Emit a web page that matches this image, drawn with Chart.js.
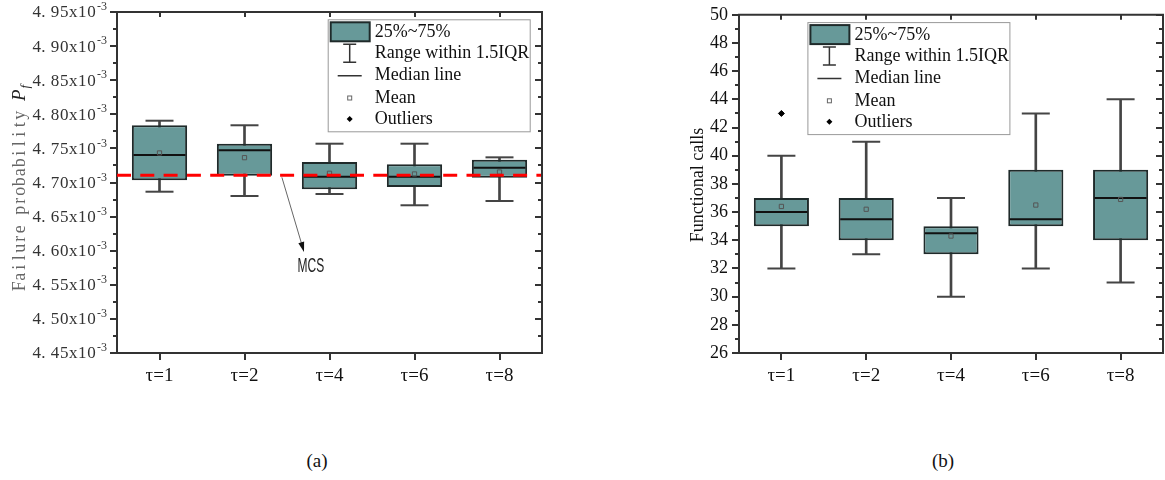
<!DOCTYPE html>
<html>
<head>
<meta charset="utf-8">
<script src="https://cdn.jsdelivr.net/npm/chart.js@4.4.1/dist/chart.umd.min.js"></script>
<style>
  body { margin: 0; background: #fff; width: 1165px; height: 480px; position: relative; overflow: hidden; }
  canvas { position: absolute; top: 0; }
  #chartA { left: 0; }
  #chartB { left: 600px; }
  .cap { position: absolute; top: 450px; font: 19px "Liberation Serif", "Times New Roman", serif; color: #111; transform: translateX(-50%); }
</style>
</head>
<body>
<canvas id="chartA" width="560" height="420"></canvas>
<canvas id="chartB" width="565" height="420"></canvas>
<div class="cap" style="left:317px">(a)</div>
<div class="cap" style="left:943px">(b)</div>
<script>
const labels = ['τ=1', 'τ=2', 'τ=4', 'τ=6', 'τ=8']
const legendLabels = ['25%~75%', 'Range within 1.5IQR', 'Median line', 'Mean', 'Outliers']

// (a) failure probability, values in units of 1e-3
const pfLow    = [4.6865, 4.6802, 4.6831, 4.6666, 4.6729]
const pfQ1     = [4.7032, 4.7100, 4.6900, 4.6934, 4.7071]
const pfMedian = [4.7403, 4.7472, 4.7085, 4.7085, 4.7217]
const pfQ3     = [4.7839, 4.7569, 4.7301, 4.7267, 4.7335]
const pfHigh   = [4.7906, 4.7839, 4.7569, 4.7569, 4.7369]
const pfMean   = [4.7433, 4.7364, 4.7135, 4.7125, 4.7154]
const pfMcs = 4.7105
// arrow + label for the MCS line, in (category index, value) coords
const mcsArrowFrom = [1.44, pfMcs]
const mcsArrowTo = [1.70, 4.598]
const mcsTextAt = [1.78, 4.5765]

// (b) functional calls
const fcLow      = [32, 33, 30, 32, 31]
const fcQ1       = [35, 34, 33, 35, 34]
const fcMedian   = [36, 35.5, 34.5, 35.5, 37]
const fcQ3       = [37, 37, 35, 39, 39]
const fcHigh     = [40, 41, 37, 43, 44]
const fcMean     = [36.4, 36.2, 34.3, 36.5, 36.9]
const fcOutliers = [43, null, null, null, null]

const TEAL = '#679999'
const SERIF = '"Liberation Serif", "Times New Roman", serif'

function pointSet(data, style, radius, color, width, fill, order) {
  return {
    type: 'line', data: data, showLine: false, order: order,
    pointStyle: style, pointRadius: radius, pointHoverRadius: radius,
    pointBorderColor: color, pointBorderWidth: width, pointBackgroundColor: fill,
    borderColor: color, borderWidth: width, backgroundColor: fill
  }
}

function makeDatasets(low, q1, median, q3, high, mean, outliers) {
  let ranges = []
  let boxes = []
  for (let i = 0; i < low.length; i++) {
    ranges.push([low[i], high[i]])
    boxes.push([q1[i], q3[i]])
  }
  let ds = [
    { type: 'bar', data: ranges, grouped: false, barThickness: 2, backgroundColor: '#444', order: 7 },
    pointSet(low, 'line', 14, '#444', 2, '#444', 6),
    pointSet(high, 'line', 14, '#444', 2, '#444', 6),
    { type: 'bar', data: boxes, grouped: false, barPercentage: 0.65, categoryPercentage: 1,
      backgroundColor: TEAL, borderColor: '#1f2a2a', borderWidth: 2, borderSkipped: false, order: 5 },
    pointSet(median, 'line', 26, '#111', 2, '#111', 4),
    pointSet(mean, 'rect', 3, '#555', 1, 'rgba(0,0,0,0)', 3)
  ]
  if (outliers) ds.push(pointSet(outliers, 'rectRot', 3, '#000', 1, '#000', 2))
  return ds
}

// half-width "SimSun-like" text: every char in an equal cell
function drawCells(ctx, text, x, y, cell) {
  ctx.textAlign = 'center'
  for (let i = 0; i < text.length; i++) {
    let dx = text[i] === '.' ? -2.5 : 0
    ctx.fillText(text[i], x + i * cell + cell / 2 + dx, y)
  }
}

function drawFrame(chart, minorStep) {
  const ctx = chart.ctx
  const a = chart.chartArea
  const x = chart.scales.x
  const y = chart.scales.y
  ctx.save()
  ctx.strokeStyle = '#333'
  ctx.lineWidth = 2
  ctx.beginPath()
  ctx.moveTo(a.left - 1, a.top)
  ctx.lineTo(a.right, a.top)
  ctx.lineTo(a.right, a.bottom + 1)
  ctx.stroke()
  let n = Math.round((y.max - y.min) / minorStep)
  for (let k = 0; k <= n; k++) {
    let py = Math.round(y.getPixelForValue(y.min + k * minorStep))
    let len = k % 2 === 0 ? 7 : 4
    ctx.beginPath()
    ctx.moveTo(a.left, py); ctx.lineTo(a.left - len, py)
    ctx.moveTo(a.right, py); ctx.lineTo(a.right - len, py)
    ctx.stroke()
  }
  for (let i = 0; i < labels.length; i++) {
    let px = Math.round(x.getPixelForValue(i))
    ctx.beginPath()
    ctx.moveTo(px, a.bottom); ctx.lineTo(px, a.bottom + 7)
    ctx.moveTo(px, a.top); ctx.lineTo(px, a.top + 5)
    ctx.stroke()
  }
  ctx.restore()
}

function drawLegend(ctx, lx, ly) {
  const w = 202, h = 112
  const rows = [12.7, 33.7, 56.4, 78.7, 99.7]
  const cx = lx + 22
  ctx.save()
  ctx.fillStyle = '#fff'
  ctx.fillRect(lx, ly, w, h)
  ctx.strokeStyle = '#999'
  ctx.lineWidth = 1
  ctx.strokeRect(lx + 0.5, ly + 0.5, w, h)

  ctx.fillStyle = TEAL
  ctx.fillRect(lx + 3, ly + 3, 39, 19)
  ctx.strokeStyle = '#1f2a2a'
  ctx.lineWidth = 2
  ctx.strokeRect(lx + 3, ly + 3, 39, 19)

  ctx.strokeStyle = '#333'
  ctx.lineWidth = 1.5
  ctx.beginPath()
  ctx.moveTo(cx, ly + 25); ctx.lineTo(cx, ly + 43)
  ctx.moveTo(cx - 6.5, ly + 25); ctx.lineTo(cx + 6.5, ly + 25)
  ctx.moveTo(cx - 6.5, ly + 43); ctx.lineTo(cx + 6.5, ly + 43)
  ctx.moveTo(lx + 10, ly + rows[2]); ctx.lineTo(lx + 34, ly + rows[2])
  ctx.stroke()

  ctx.strokeStyle = '#666'
  ctx.lineWidth = 1
  ctx.strokeRect(cx - 2, ly + rows[3] - 2, 4, 4)

  ctx.fillStyle = '#000'
  ctx.beginPath()
  ctx.moveTo(cx, ly + rows[4] - 3); ctx.lineTo(cx + 3, ly + rows[4])
  ctx.lineTo(cx, ly + rows[4] + 3); ctx.lineTo(cx - 3, ly + rows[4])
  ctx.closePath()
  ctx.fill()

  ctx.fillStyle = '#111'
  ctx.font = '18px ' + SERIF
  ctx.textBaseline = 'middle'
  ctx.textAlign = 'left'
  for (let i = 0; i < legendLabels.length; i++) {
    ctx.fillText(legendLabels[i], lx + 47, ly + rows[i])
  }
  ctx.restore()
}

function baseOptions(yMin, yMax, yStep, yWidth, showYTicks, padding) {
  return {
    responsive: false,
    animation: false,
    events: [],
    layout: { padding: padding, autoPadding: false },
    plugins: { legend: { display: false }, tooltip: { enabled: false } },
    scales: {
      x: {
        type: 'category', labels: labels, offset: true,
        grid: { display: false, drawTicks: true, tickLength: 7, offset: false },
        border: { display: true, color: '#333', width: 2 },
        ticks: { color: '#111', font: { family: SERIF, size: 19 }, padding: 5, maxRotation: 0 },
        afterFit: function (s) { s.height = 50 }
      },
      y: {
        min: yMin, max: yMax,
        grid: { display: false, drawTicks: true, tickLength: 7 },
        border: { display: true, color: '#333', width: 2 },
        ticks: { display: showYTicks, stepSize: yStep, color: '#111', font: { family: SERIF, size: 18 }, padding: 4 },
        afterFit: function (s) { s.width = yWidth }
      }
    }
  }
}

const pluginA = {
  id: 'boxA',
  afterDatasetsDraw(chart) {
    const ctx = chart.ctx, a = chart.chartArea, y = chart.scales.y
    let py = y.getPixelForValue(pfMcs)
    ctx.save()
    ctx.strokeStyle = '#ff0000'
    ctx.lineWidth = 3
    ctx.setLineDash([14, 9.3])
    ctx.beginPath()
    ctx.moveTo(a.left, py); ctx.lineTo(a.right, py)
    ctx.stroke()
    ctx.restore()
  },
  afterDraw(chart) {
    const ctx = chart.ctx, a = chart.chartArea, x = chart.scales.x, y = chart.scales.y
    drawFrame(chart, 0.025)

    // y tick labels: 4.95x10^-3
    ctx.save()
    ctx.fillStyle = '#333'
    ctx.textBaseline = 'middle'
    y.ticks.forEach(function (t) {
      let py = y.getPixelForValue(t.value)
      let s = t.value.toFixed(2) + 'x10'
      ctx.font = '17px ' + SERIF
      drawCells(ctx, s, a.left - 21 - s.length * 9.1, py + 1, 9.1)
      ctx.font = '12px ' + SERIF
      ctx.textAlign = 'left'
      ctx.fillText('-3', a.left - 20, py - 5)
    })
    ctx.restore()

    // y title
    ctx.save()
    ctx.translate(25, (a.top + a.bottom) / 2 + 5)
    ctx.rotate(-Math.PI / 2)
    ctx.textBaseline = 'alphabetic'
    let t1 = 'Failure probability '
    let cell = 9.5
    let w1 = t1.length * cell
    ctx.font = 'italic 19px ' + SERIF
    let w2 = ctx.measureText('P').width
    ctx.font = 'italic 13px ' + SERIF
    let w3 = ctx.measureText('f').width
    let sx = -(w1 + w2 + w3 + 2) / 2
    ctx.fillStyle = '#666'
    ctx.font = '18px ' + SERIF
    drawCells(ctx, t1, sx, 0, cell)
    ctx.textAlign = 'left'
    ctx.fillStyle = '#222'
    ctx.font = 'italic 19px ' + SERIF
    ctx.fillText('P', sx + w1, 0)
    ctx.font = 'italic 13px ' + SERIF
    ctx.fillText('f', sx + w1 + w2 + 1, 4)
    ctx.restore()

    // MCS arrow
    let x1 = x.getPixelForValue(mcsArrowFrom[0]), y1 = y.getPixelForValue(mcsArrowFrom[1])
    let x2 = x.getPixelForValue(mcsArrowTo[0]), y2 = y.getPixelForValue(mcsArrowTo[1])
    let ang = Math.atan2(y2 - y1, x2 - x1)
    ctx.save()
    ctx.strokeStyle = '#666'
    ctx.lineWidth = 1
    ctx.beginPath()
    ctx.moveTo(x1, y1 + 2); ctx.lineTo(x2 - 8 * Math.cos(ang), y2 - 8 * Math.sin(ang))
    ctx.stroke()
    ctx.fillStyle = '#111'
    ctx.beginPath()
    ctx.moveTo(x2, y2)
    ctx.lineTo(x2 - 10 * Math.cos(ang) + 3 * Math.sin(ang), y2 - 10 * Math.sin(ang) - 3 * Math.cos(ang))
    ctx.lineTo(x2 - 10 * Math.cos(ang) - 3 * Math.sin(ang), y2 - 10 * Math.sin(ang) + 3 * Math.cos(ang))
    ctx.closePath()
    ctx.fill()
    // narrow label
    ctx.translate(x.getPixelForValue(mcsTextAt[0]), y.getPixelForValue(mcsTextAt[1]))
    ctx.scale(0.6, 1)
    ctx.fillStyle = '#222'
    ctx.font = '20px "Liberation Sans", sans-serif'
    ctx.textAlign = 'center'
    ctx.textBaseline = 'middle'
    ctx.fillText('MCS', 0, 0)
    ctx.restore()

    drawLegend(ctx, a.left + 210.7, a.top + 7.3)
  }
}

const pluginB = {
  id: 'boxB',
  afterDraw(chart) {
    const ctx = chart.ctx, a = chart.chartArea
    drawFrame(chart, 1)
    ctx.save()
    ctx.translate(103, (a.top + a.bottom) / 2 + 1)
    ctx.rotate(-Math.PI / 2)
    ctx.fillStyle = '#111'
    ctx.font = '18px ' + SERIF
    ctx.textAlign = 'center'
    ctx.textBaseline = 'alphabetic'
    ctx.fillText('Functional calls', 0, 0)
    ctx.restore()
    drawLegend(ctx, a.left + 68.4, a.top + 7.3)
  }
}

new Chart(document.getElementById('chartA'), {
  type: 'bar',
  data: { labels: labels, datasets: makeDatasets(pfLow, pfQ1, pfMedian, pfQ3, pfHigh, pfMean, null) },
  options: baseOptions(4.45, 4.95, 0.05, 117, false, { left: 0, right: 18, top: 12, bottom: 17 }),
  plugins: [pluginA]
})

new Chart(document.getElementById('chartB'), {
  type: 'bar',
  data: { labels: labels, datasets: makeDatasets(fcLow, fcQ1, fcMedian, fcQ3, fcHigh, fcMean, fcOutliers) },
  options: baseOptions(26, 50, 2, 139, true, { left: 0, right: 2, top: 12, bottom: 17 }),
  plugins: [pluginB]
})
</script>
</body>
</html>
